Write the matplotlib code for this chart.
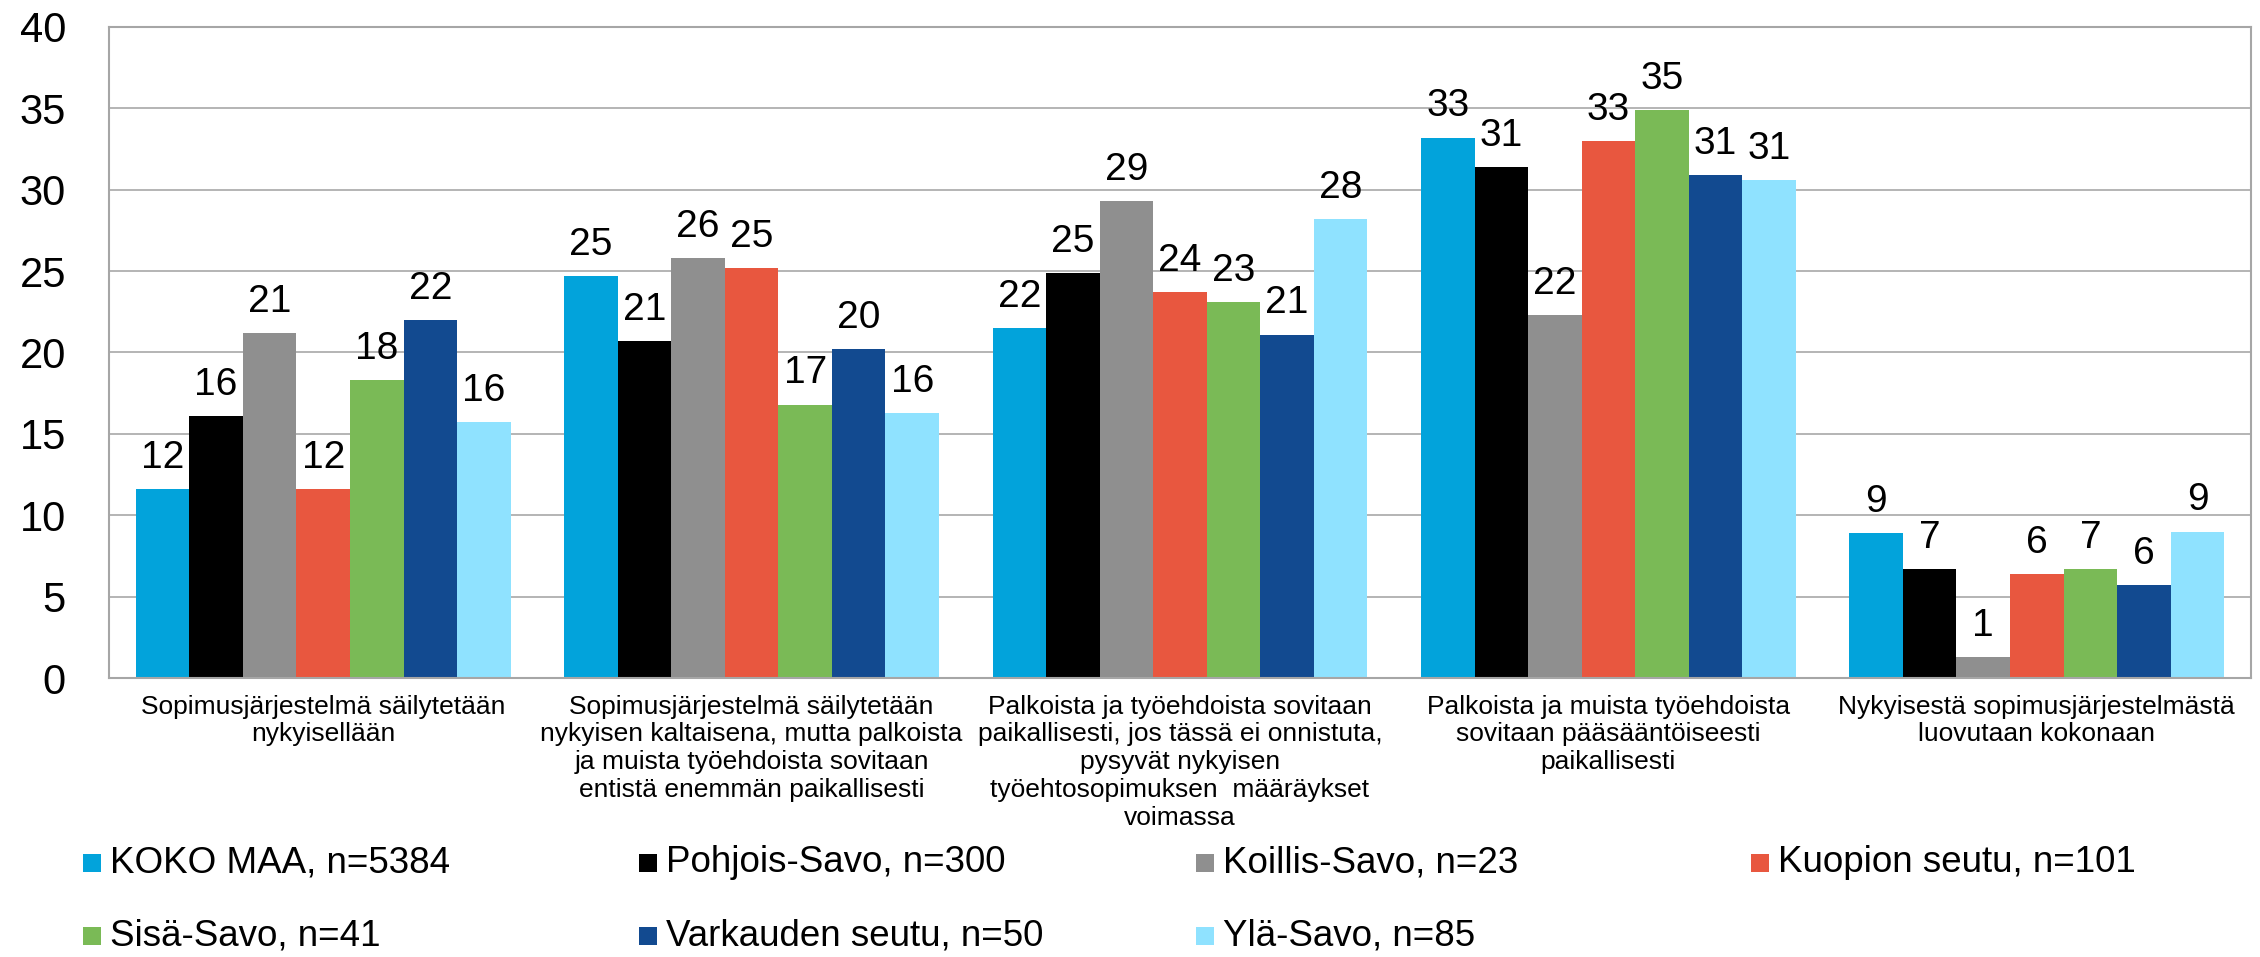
import matplotlib
matplotlib.use("Agg")
import matplotlib.pyplot as plt
from matplotlib.patches import Rectangle
import numpy as np

plt.rcParams['font.family'] = ['Liberation Sans', 'DejaVu Sans']

categories = [
    "Sopimusjärjestelmä säilytetään\nnykyisellään",
    "Sopimusjärjestelmä säilytetään\nnykyisen kaltaisena, mutta palkoista\nja muista työehdoista sovitaan\nentistä enemmän paikallisesti",
    "Palkoista ja työehdoista sovitaan\npaikallisesti, jos tässä ei onnistuta,\npysyvät nykyisen\ntyöehtosopimuksen  määräykset\nvoimassa",
    "Palkoista ja muista työehdoista\nsovitaan pääsääntöiseesti\npaikallisesti",
    "Nykyisestä sopimusjärjestelmästä\nluovutaan kokonaan",
]

series_names = [
    "KOKO MAA, n=5384",
    "Pohjois-Savo, n=300",
    "Koillis-Savo, n=23",
    "Kuopion seutu, n=101",
    "Sisä-Savo, n=41",
    "Varkauden seutu, n=50",
    "Ylä-Savo, n=85",
]

koko_maa = [11.6, 24.7, 21.5, 33.2, 8.9]
pohjois_savo = [16.1, 20.7, 24.9, 31.4, 6.7]
koillis_savo = [21.2, 25.8, 29.3, 22.3, 1.3]
kuopion_seutu = [11.6, 25.2, 23.7, 33.0, 6.4]
sisa_savo = [18.3, 16.8, 23.1, 34.9, 6.7]
varkauden_seutu = [22.0, 20.2, 21.1, 30.9, 5.7]
yla_savo = [15.7, 16.3, 28.2, 30.6, 9.0]

labels_koko_maa = ["12", "25", "22", "33", "9"]
labels_pohjois_savo = ["16", "21", "25", "31", "7"]
labels_koillis_savo = ["21", "26", "29", "22", "1"]
labels_kuopion_seutu = ["12", "25", "24", "33", "6"]
labels_sisa_savo = ["18", "17", "23", "35", "7"]
labels_varkauden_seutu = ["22", "20", "21", "31", "6"]
labels_yla_savo = ["16", "16", "28", "31", "9"]

values = [koko_maa, pohjois_savo, koillis_savo, kuopion_seutu,
          sisa_savo, varkauden_seutu, yla_savo]
value_labels = [labels_koko_maa, labels_pohjois_savo, labels_koillis_savo,
                labels_kuopion_seutu, labels_sisa_savo, labels_varkauden_seutu,
                labels_yla_savo]

colors = ["#02A3DB", "#000000", "#8F8F8F", "#E8573F",
          "#7ABA56", "#124A90", "#8FE2FF"]

yticks = [0, 5, 10, 15, 20, 25, 30, 35, 40]

W, H = 2260, 957
fig = plt.figure(figsize=(W / 100, H / 100), dpi=100)
ax = fig.add_axes([109 / W, 1 - 678 / H, (2251 - 109) / W, (678 - 27) / H])

n = len(values)
w = 1.0 / 8
x = np.arange(len(categories))
for i, (vals, labs, c) in enumerate(zip(values, value_labels, colors)):
    bars = ax.bar(x + (i - (n - 1) / 2) * w, vals, width=w, color=c,
                  edgecolor='none', zorder=3, label=series_names[i])
    ax.bar_label(bars, labels=labs, padding=9.5, fontsize=28, color='black')

ax.set_xlim(-0.5, len(categories) - 0.5)
ax.set_ylim(0, 40)
ax.set_yticks(yticks)
ax.set_yticklabels([str(t) for t in yticks], fontsize=30)
ax.set_xticks(x)
ax.set_xticklabels(categories, fontsize=19, linespacing=1.2)
ax.tick_params(axis='y', length=0, pad=31)
ax.tick_params(axis='x', length=0, pad=12)
ax.yaxis.grid(True, color='#A0A0A0', linewidth=1.1, zorder=0)
ax.set_axisbelow(True)
for s in ax.spines.values():
    s.set_color('#A6A6A6')
    s.set_linewidth(1.5)
    s.set_zorder(4)

# legend (4 columns, 2 rows)
col_x = [83, 639, 1196, 1751]
row_y = [863, 936]
for i, (name, c) in enumerate(zip(series_names, colors)):
    r, cidx = divmod(i, 4)
    mx, my = col_x[cidx], row_y[r]
    fig.patches.append(Rectangle((mx / W, 1 - (my + 9) / H), 18 / W, 18 / H,
                                 transform=fig.transFigure, facecolor=c,
                                 edgecolor='none'))
    fig.text((mx + 27) / W, 1 - my / H, name, fontsize=26.5,
             va='center', ha='left', color='black')

fig.savefig("out.png", dpi=100, facecolor='white')
